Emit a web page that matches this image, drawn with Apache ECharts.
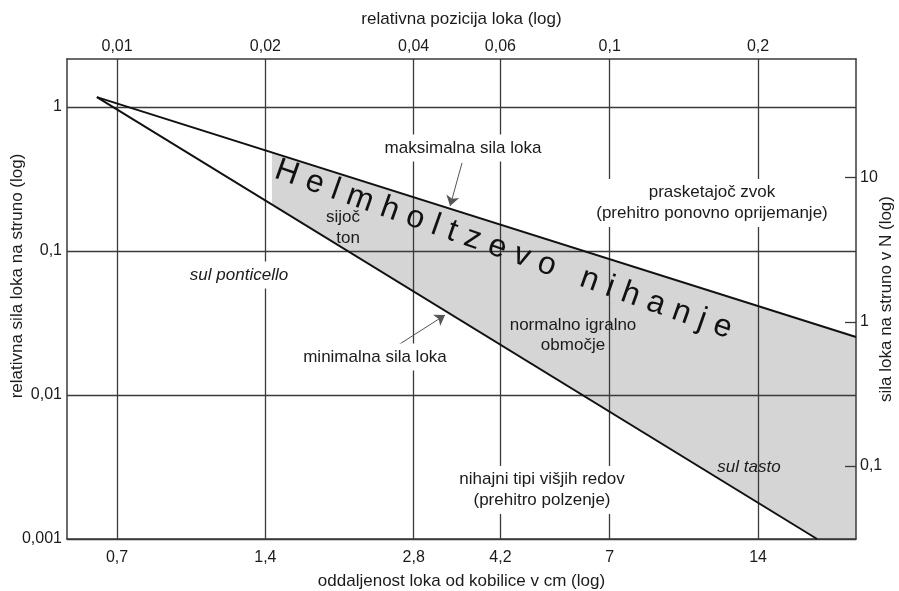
<!DOCTYPE html>
<html>
<head>
<meta charset="utf-8">
<script src="https://cdn.jsdelivr.net/npm/echarts@6/dist/echarts.min.js"></script>
<style>
  html, body { margin: 0; padding: 0; background: #fff; }
  #chart { width: 899px; height: 591px; }
</style>
</head>
<body>
<div id="chart"></div>
<script>
// Schelleng-type diagram: bow force versus bow-bridge distance (log-log)

// Axis tick values
const bridgeDistCm = [0.7, 1.4, 2.8, 4.2, 7, 14];          // bottom axis, cm
const relBowPosition = [0.01, 0.02, 0.04, 0.06, 0.1, 0.2]; // top axis, distance / string length
const relForceTicks = [0.001, 0.01, 0.1, 1];               // left axis
const forceNTicks = [0.1, 1, 10];                          // right axis, newtons

// Axis ranges
const distRange = [0.554, 22.13];
const relForceRange = [0.001, 2.154];
const stringLengthCm = 70;        // relative position = distance / string length
const newtonPerRelForce = 31;     // right axis = relative force * this

// Force limit lines [distance cm, relative force]
const maxForceLine = [[0.637, 1.17], [22.13, 0.0253]];
const minForceLine = [[0.637, 1.17], [18.45, 0.001]];

// Normal playing region (shaded)
const playRegion = [[1.444, 0.483], [22.13, 0.0253], [22.13, 0.001], [18.45, 0.001], [1.444, 0.21]];

// Annotation arrows [from, to]
const maxArrow = [[3.51, 0.409], [3.32, 0.2054]];
const minArrow = [[2.567, 0.02154], [3.242, 0.0359]];

const FONT = '"Liberation Sans", Arial, Helvetica, sans-serif';
const TEXT = '#1b1b1b';
const GRID = '#3a3a3a';

const fmt = v => String(+(+v).toPrecision(4)).replace('.', ',');

const chart = echarts.init(document.getElementById('chart'), null, { renderer: 'canvas' });

// Letter-spaced rotated caption along the Helmholtz region
function spacedText(str, font, spacing) {
  const ctx = document.createElement('canvas').getContext('2d');
  ctx.font = font;
  const children = [];
  let x = 0;
  for (const ch of str) {
    if (ch !== ' ') {
      children.push({
        type: 'text', x: x, y: 0, z: 10, silent: true,
        style: { text: ch, font: font, fill: '#111', align: 'left', verticalAlign: 'middle' }
      });
    }
    x += ctx.measureText(ch).width + spacing;
  }
  return children;
}

const helmFont = 'normal 32px ' + FONT;

function label(text, x, y, opts) {
  return {
    type: 'text', x: x, y: y, z: 10, silent: true,
    style: Object.assign({
      text: text,
      fontFamily: FONT, fontSize: 17, fill: TEXT,
      align: 'center', verticalAlign: 'middle', lineHeight: 21
    }, opts || {})
  };
}

const option = {
  animation: false,
  backgroundColor: '#fff',
  grid: { left: 67, top: 59, right: 43, bottom: 52, outerBoundsMode: 'none', containLabel: false },
  xAxis: [
    {
      type: 'log', position: 'bottom', z: 2,
      min: distRange[0], max: distRange[1],
      name: 'oddaljenost loka od kobilice v cm (log)',
      nameLocation: 'middle', nameGap: 34, nameMoveOverlap: false,
      nameTextStyle: { fontFamily: FONT, fontSize: 17, color: TEXT },
      axisLine: { show: true, lineStyle: { color: GRID, width: 1.5 } },
      axisTick: { show: false, customValues: bridgeDistCm },
      axisLabel: {
        customValues: bridgeDistCm, formatter: fmt, margin: 11,
        fontFamily: FONT, fontSize: 16, color: TEXT
      },
      splitLine: { show: true, lineStyle: { color: GRID, width: 1.3 } }
    },
    {
      type: 'log', position: 'top', z: 2,
      min: distRange[0] / stringLengthCm, max: distRange[1] / stringLengthCm,
      name: 'relativna pozicija loka (log)',
      nameLocation: 'middle', nameGap: 31, nameMoveOverlap: false,
      nameTextStyle: { fontFamily: FONT, fontSize: 17, color: TEXT },
      axisLine: { show: true, lineStyle: { color: GRID, width: 1.5 } },
      axisTick: { show: false, customValues: relBowPosition },
      axisLabel: {
        customValues: relBowPosition, formatter: fmt, margin: 4,
        fontFamily: FONT, fontSize: 16, color: TEXT
      },
      splitLine: { show: false }
    }
  ],
  yAxis: [
    {
      type: 'log', position: 'left', z: 2,
      min: relForceRange[0], max: relForceRange[1],
      name: 'relativna sila loka na struno (log)',
      nameLocation: 'middle', nameGap: 41, nameMoveOverlap: false,
      nameTextStyle: { fontFamily: FONT, fontSize: 17, color: TEXT, padding: [0, 0, 0, 46] },
      axisLine: { show: true, lineStyle: { color: GRID, width: 1.5 } },
      axisTick: { show: false, customValues: relForceTicks },
      axisLabel: {
        customValues: relForceTicks, formatter: fmt, margin: 5,
        fontFamily: FONT, fontSize: 16, color: TEXT
      },
      splitLine: { show: true, lineStyle: { color: GRID, width: 1.3 } }
    },
    {
      type: 'log', position: 'right', z: 2,
      min: relForceRange[0] * newtonPerRelForce, max: relForceRange[1] * newtonPerRelForce,
      name: 'sila loka na struno v N (log)',
      nameLocation: 'middle', nameGap: 22, nameMoveOverlap: false,
      nameTextStyle: { fontFamily: FONT, fontSize: 17, color: TEXT },
      axisLine: { show: true, lineStyle: { color: GRID, width: 1.5 } },
      axisTick: {
        show: true, inside: true, length: 11, customValues: forceNTicks,
        lineStyle: { color: GRID, width: 1.3 }
      },
      axisLabel: {
        customValues: forceNTicks, formatter: fmt, margin: 4,
        fontFamily: FONT, fontSize: 16, color: TEXT
      },
      splitLine: { show: false }
    }
  ],
  series: [
    {
      type: 'custom', name: 'normalno igralno območje',
      xAxisIndex: 0, yAxisIndex: 0, z: 1, silent: true, clip: true,
      data: playRegion,
      renderItem: function (params, api) {
        if (params.dataIndex !== 0) return null;
        const pts = playRegion.map(p => api.coord(p));
        return { type: 'polygon', shape: { points: pts }, style: { fill: '#d5d5d5' } };
      }
    },
    {
      type: 'line', name: 'maksimalna sila loka',
      xAxisIndex: 0, yAxisIndex: 0, z: 4, silent: true,
      data: maxForceLine, symbol: 'none',
      lineStyle: { color: '#111', width: 2 }
    },
    {
      type: 'line', name: 'minimalna sila loka',
      xAxisIndex: 0, yAxisIndex: 0, z: 4, silent: true,
      data: minForceLine, symbol: 'none',
      lineStyle: { color: '#111', width: 2 }
    },
    {
      type: 'lines', coordinateSystem: 'cartesian2d',
      xAxisIndex: 0, yAxisIndex: 0, z: 5, silent: true,
      symbol: ['none', 'arrow'], symbolSize: [6, 10],
      lineStyle: { color: '#555', width: 1, opacity: 1 },
      itemStyle: { color: '#111' },
      data: [{ coords: maxArrow }, { coords: minArrow }]
    }
  ],
  graphic: [
    label('maksimalna sila loka', 463, 148, { backgroundColor: '#fff', padding: [3, 2] }),
    label('minimalna sila loka', 375, 357, { backgroundColor: '#fff', padding: [3, 2] }),
    label('sijoč\nton', 360, 228, { align: 'right' }),
    label('normalno igralno\nobmočje', 573, 335, { lineHeight: 20 }),
    label('sul ponticello', 239, 275, { fontStyle: 'italic', backgroundColor: '#fff', padding: [3, 3] }),
    label('sul tasto', 749, 467, { fontStyle: 'italic' }),
    label('prasketajoč zvok\n(prehitro ponovno oprijemanje)', 712, 203, { backgroundColor: '#fff', padding: [3, 2] }),
    label('nihajni tipi višjih redov\n(prehitro polzenje)', 542, 490, { backgroundColor: '#fff', padding: [3, 2] }),
    {
      type: 'group', x: 276, y: 169, z: 10, silent: true,
      rotation: -19.5 * Math.PI / 180,
      children: spacedText('Helmholtzevo nihanje', helmFont, 9.3)
    }
  ]
};

chart.setOption(option);
</script>
</body>
</html>
